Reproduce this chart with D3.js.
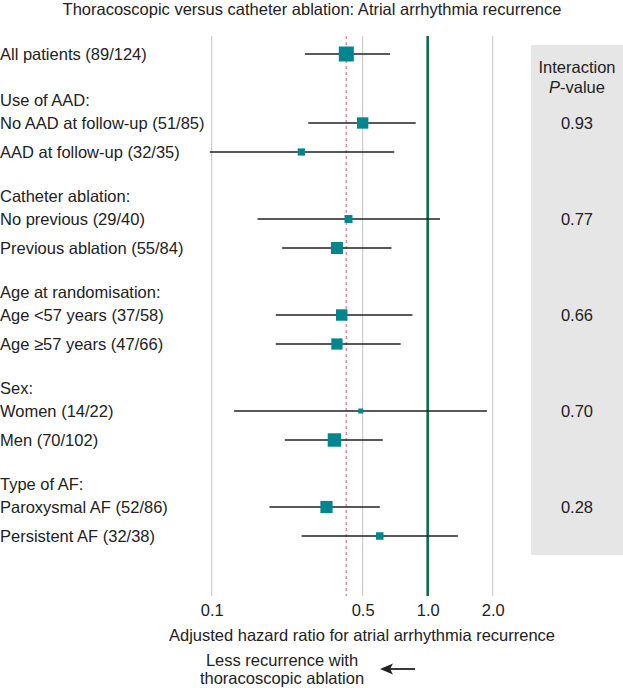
<!DOCTYPE html>
<html>
<head>
<meta charset="utf-8">
<script src="https://cdn.jsdelivr.net/npm/d3@7/dist/d3.min.js"></script>
<style>
  html, body { margin: 0; padding: 0; background: #fff; }
  text { font-family: "Liberation Sans", Arial, Helvetica, sans-serif; fill: #222; }
</style>
</head>
<body>
<svg id="chart" width="623" height="688"></svg>
<script>
// ---------- data ----------
const title = "Thoracoscopic versus catheter ablation: Atrial arrhythmia recurrence";
const overallLabel = "All patients (89/124)";
const overallHR = 0.42, overallLo = 0.27, overallHi = 0.67, overallWeight = 100;

const groupHeaders = ["Use of AAD:", "Catheter ablation:", "Age at randomisation:", "Sex:", "Type of AF:"];
const subgroupLabels = [
  ["No AAD at follow-up (51/85)", "AAD at follow-up (32/35)"],
  ["No previous (29/40)", "Previous ablation (55/84)"],
  ["Age <57 years (37/58)", "Age \u226557 years (47/66)"],
  ["Women (14/22)", "Men (70/102)"],
  ["Paroxysmal AF (52/86)", "Persistent AF (32/38)"]
];
const subgroupHR   = [[0.50, 0.26], [0.43, 0.38], [0.40, 0.38], [0.49, 0.37], [0.34, 0.60]];
const subgroupLo   = [[0.28, 0.098], [0.163, 0.212], [0.198, 0.198], [0.127, 0.218], [0.185, 0.261]];
const subgroupHi   = [[0.88, 0.70], [1.14, 0.68], [0.85, 0.75], [1.88, 0.62], [0.60, 1.38]];
const subgroupWeight = [[57, 23], [28, 64], [58, 56], [11, 80], [66, 25]];
const interactionP = ["0.93", "0.77", "0.66", "0.70", "0.28"];

const tickValues = [0.1, 0.5, 1.0, 2.0];
const tickLabels = ["0.1", "0.5", "1.0", "2.0"];
const xAxisTitle = "Adjusted hazard ratio for atrial arrhythmia recurrence";
const arrowText = ["Less recurrence with", "thoracoscopic ablation"];
const pHeader = ["Interaction", "P-value"];

// ---------- layout ----------
const FS = 16.5;
const svg = d3.select("#chart");
const x = d3.scaleLog().domain([0.1, 2]).range([211.7, 492.7]);
const sizeScale = d3.scaleSqrt().domain([0, 100]).range([0, 15]);

const rows = [];
let cursor = 54;
rows.push({type: "data", label: overallLabel, hr: overallHR, lo: overallLo, hi: overallHi, w: overallWeight, y: cursor});
cursor += 46;
groupHeaders.forEach((h, gi) => {
  if (gi > 0) cursor += 44;
  rows.push({type: "header", label: h, y: cursor});
  cursor += 23;
  subgroupLabels[gi].forEach((lab, si) => {
    if (si > 0) cursor += 29;
    rows.push({type: "data", label: lab, hr: subgroupHR[gi][si], lo: subgroupLo[gi][si],
               hi: subgroupHi[gi][si], w: subgroupWeight[gi][si], y: cursor,
               p: si === 0 ? interactionP[gi] : null});
  });
});
const dataRows = rows.filter(r => r.type === "data");

const plotTop = 36, plotBottom = 596;

// Title
svg.append("text").attr("x", 312).attr("y", 9).attr("dy", "0.35em").attr("text-anchor", "middle")
  .attr("font-size", FS).text(title);

// P-value panel
const pCx = 577;
svg.append("rect").attr("x", 531).attr("y", 45).attr("width", 92).attr("height", 510)
  .attr("fill", "#e6e6e6");
svg.append("text").attr("x", pCx).attr("y", 67).attr("dy", "0.35em").attr("text-anchor", "middle")
  .attr("font-size", FS).text(pHeader[0]);
const ph = svg.append("text").attr("x", pCx).attr("y", 87).attr("dy", "0.35em").attr("text-anchor", "middle")
  .attr("font-size", FS);
ph.append("tspan").attr("font-style", "italic").text(pHeader[1].slice(0, 1));
ph.append("tspan").text(pHeader[1].slice(1));
svg.selectAll("text.pval").data(dataRows.filter(r => r.p)).join("text")
  .attr("class", "pval").attr("x", pCx).attr("y", d => d.y)
  .attr("dy", "0.35em").attr("text-anchor", "middle").attr("font-size", FS)
  .text(d => d.p);

// Grid lines
svg.selectAll("line.grid").data(tickValues.filter(t => t !== 1)).join("line")
  .attr("class", "grid")
  .attr("x1", d => x(d)).attr("x2", d => x(d))
  .attr("y1", plotTop).attr("y2", plotBottom)
  .attr("stroke", "#c4c4c4").attr("stroke-width", 1);

// Overall dashed line
svg.append("line").attr("x1", x(overallHR)).attr("x2", x(overallHR))
  .attr("y1", plotTop).attr("y2", plotBottom)
  .attr("stroke", "#e0909c").attr("stroke-width", 1.6).attr("stroke-dasharray", "3,3");

// No-effect line
svg.append("line").attr("x1", x(1)).attr("x2", x(1))
  .attr("y1", plotTop).attr("y2", plotBottom)
  .attr("stroke", "#116b4e").attr("stroke-width", 2.6);

// Axis tick labels
const axis = d3.axisBottom(x).tickValues(tickValues)
  .tickFormat((d, i) => tickLabels[i]).tickSize(0).tickPadding(0);
const axG = svg.append("g").attr("transform", `translate(0, 604)`).call(axis);
axG.select(".domain").remove();
axG.selectAll("text").attr("font-size", FS).attr("fill", "#222")
  .style("font-family", '"Liberation Sans", Arial, sans-serif');

// Axis title
svg.append("text").attr("x", 362).attr("y", 635).attr("dy", "0.35em").attr("text-anchor", "middle")
  .attr("font-size", FS).text(xAxisTitle);
svg.append("text").attr("x", 282).attr("y", 660).attr("dy", "0.35em").attr("text-anchor", "middle")
  .attr("font-size", FS).text(arrowText[0]);
svg.append("text").attr("x", 282).attr("y", 678).attr("dy", "0.35em").attr("text-anchor", "middle")
  .attr("font-size", FS).text(arrowText[1]);
// Arrow
svg.append("line").attr("x1", 415).attr("x2", 386).attr("y1", 669).attr("y2", 669)
  .attr("stroke", "#222").attr("stroke-width", 1.8);
svg.append("path").attr("d", "M380,669 L393,663.5 L390,669 L393,674.5 Z").attr("fill", "#222");

// Row labels
svg.selectAll("text.rowlab").data(rows).join("text")
  .attr("class", "rowlab").attr("x", 0).attr("y", d => d.y)
  .attr("dy", "0.35em").attr("font-size", FS).text(d => d.label);

// CI lines
svg.selectAll("line.ci").data(dataRows).join("line")
  .attr("class", "ci")
  .attr("x1", d => x(d.lo)).attr("x2", d => x(d.hi))
  .attr("y1", d => d.y).attr("y2", d => d.y)
  .attr("stroke", "#222").attr("stroke-width", 1.4);

// Squares
svg.selectAll("rect.pt").data(dataRows).join("rect")
  .attr("class", "pt")
  .attr("x", d => x(d.hr) - sizeScale(d.w) / 2)
  .attr("y", d => d.y - sizeScale(d.w) / 2)
  .attr("width", d => sizeScale(d.w)).attr("height", d => sizeScale(d.w))
  .attr("fill", "#00868f");
</script>
</body>
</html>
